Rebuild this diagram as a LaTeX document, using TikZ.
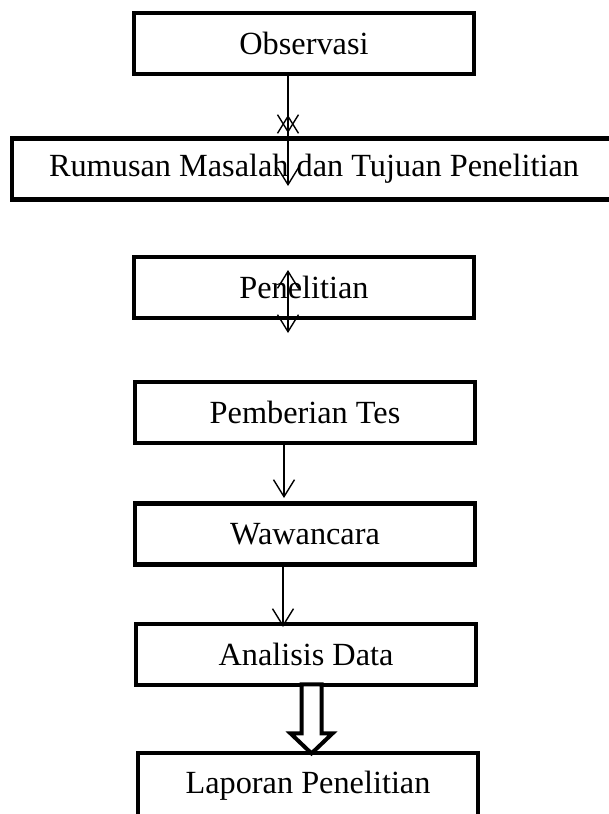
\documentclass[tikz,border=0pt]{standalone}
\usepackage{fontspec}
\setmainfont{Liberation Serif}
\usetikzlibrary{arrows.meta,calc}

\begin{document}
\begin{tikzpicture}[x=1pt,y=1pt,
    box/.style={draw,line width=4.8pt,rectangle,minimum width=340pt,minimum height=61pt,inner sep=0pt,font=\fontsize{32.3}{38}\selectfont},
    arr/.style={line width=1.4pt,-{Straight Barb[length=17pt,width=21pt]}},
    dbl/.style={line width=1.4pt,{Straight Barb[length=17pt,width=21pt]}-{Straight Barb[length=17pt,width=21pt]}},
    hollow/.style={line width=4pt,fill=white,line join=miter}]
    \useasboundingbox (0,0) rectangle (609,-814);

    \node[box] (OBS) at (304,-43.5) {Observasi};
    \node[box,minimum width=604pt] (RUM) at (314,-169) {Rumusan Masalah dan Tujuan Penelitian};
    \node[box] (PEN) at (304,-287.5) {Penelitian};
    \node[box] (TES) at (305,-412.5) {Pemberian Tes};
    \node[box] (WAW) at (305,-534) {Wawancara};
    \node[box] (ANA) at (306,-654.5) {Analisis Data};
    \node[box,minimum height=65pt] (LAP) at (308,-785.5) {Laporan Penelitian};

    \coordinate (RUMtip) at (288,-186);
    \coordinate (XA) at (288,-115);
    \coordinate (XB) at (288,-133);
    \coordinate (PENa) at (288,-270);
    \coordinate (PENb) at (288,-333);

    \draw [arr] (OBS.south -| RUMtip) -- (RUMtip);
    \draw [dbl] (XA) -- (XB);
    \draw [dbl] (PENa) -- (PENb);
    \draw [arr] (TES.south -| 284,0) -- (284,-498);
    \draw [arr] (WAW.south -| 283,0) -- (283,-627);

    % hollow arrow
    \draw [hollow] ($(ANA.south)+(0,3)$) ++(-4.5,0) -- ++(0,-49) -- ++(-11,0) -- ++(21,-20)
        -- ++(21,20) -- ++(-11,0) -- ++(0,49) -- cycle;
\end{tikzpicture}
\end{document}
